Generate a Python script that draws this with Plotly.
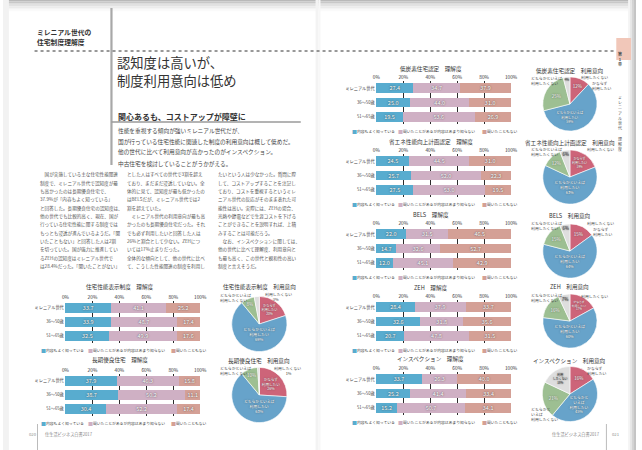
import plotly.graph_objects as go

W, H = 642, 450
def X(px): return px / W
def Y(py): return 1 - py / H

FONT = "Noto Sans CJK JP"

# ---------------- data ----------------
categories = ["ミレニアル世代", "36〜50歳", "51〜65歳"]
series_names = ["内容もよく知っている", "聞いたことがあるが内容はあまり知らない", "聞いたこともない"]
tick_vals = [0, 20, 40, 60, 80, 100]
tick_text = ["0%", "20%", "40%", "60%", "80%", "100%"]

# 理解度 (%)  [ミレニアル世代, 36〜50歳, 51〜65歳]
hyoji_know = [33.7, 33.9, 32.5]
hyoji_heard = [41.1, 48.7, 49.9]
hyoji_never = [25.2, 17.4, 17.6]

choki_know = [37.9, 38.7, 30.4]
choki_heard = [46.3, 50.2, 52.2]
choki_never = [15.8, 11.1, 17.4]

teitanso_know = [27.4, 25.0, 19.5]
teitanso_heard = [34.7, 44.0, 53.6]
teitanso_never = [37.9, 31.0, 26.9]

shoene_know = [24.5, 25.7, 27.5]
shoene_heard = [44.5, 52.0, 53.0]
shoene_never = [31.0, 22.3, 19.5]

bels_know = [22.0, 14.7, 12.0]
bels_heard = [31.5, 32.6, 45.1]
bels_never = [46.5, 52.7, 42.9]

zeh_know = [28.4, 32.6, 20.7]
zeh_heard = [37.9, 31.8, 47.8]
zeh_never = [33.7, 35.6, 31.5]

insp_know = [33.7, 25.2, 15.2]
insp_heard = [26.3, 41.4, 50.7]
insp_never = [40.0, 33.4, 34.1]

# 利用意向 (%)  [かならず利用したい, どちらかといえば利用したい, どちらかといえば利用したくない, 利用したくない]
pie_labels = ["かならず利用したい", "どちらかといえば利用したい", "どちらかといえば利用したくない", "利用したくない"]
hyoji_use = [20, 69, 8, 3]
choki_use = [26, 63, 10, 1]
teitanso_use = [12, 59, 25, 4]
shoene_use = [19, 63, 12, 6]
bels_use = [15, 64, 15, 6]
zeh_use = [17, 60, 16, 7]
insp_use = [16, 45, 21, 18]

bar_colors = ["#58accf", "#cfb0c4", "#d4a096"]
pie_colors = ["#cd6479", "#67a3ca", "#9dbf92", "#dedede"]

# ---------------- layout geometry (pixels) ----------------
bar_charts = [
    dict(title="住宅性能表示制度　理解度", data=(hyoji_know, hyoji_heard, hyoji_never), x0=62.7, x1=200.7, top=301, bot=343, ty=287),
    dict(title="長期優良住宅　理解度", data=(choki_know, choki_heard, choki_never), x0=62.7, x1=200.7, top=374, bot=416, ty=360),
    dict(title="低炭素住宅認定　理解度", data=(teitanso_know, teitanso_heard, teitanso_never), x0=378, x1=516, top=81, bot=124, ty=69),
    dict(title="省エネ性能向上計画認定　理解度", data=(shoene_know, shoene_heard, shoene_never), x0=378, x1=516, top=154, bot=197, ty=142),
    dict(title="BELS　理解度", data=(bels_know, bels_heard, bels_never), x0=378, x1=516, top=227, bot=270, ty=215),
    dict(title="ZEH　理解度", data=(zeh_know, zeh_heard, zeh_never), x0=378, x1=516, top=300, bot=343, ty=288),
    dict(title="インスペクション　理解度", data=(insp_know, insp_heard, insp_never), x0=378, x1=516, top=372, bot=415, ty=359),
]

blue_txt = "どちらかといえば<br>利用したい<br>"
pies = [
    dict(title="住宅性能表示制度　利用意向", vals=hyoji_use, cx=260, cy=324, r=28, ty=287,
         inner=["かならず<br>利用したい<br>", blue_txt, "", None],
         outer=[("どちらかといえば<br>利用したくない", 218, 297), ("利用したくない<br>　　3%", 264, 296)]),
    dict(title="長期優良住宅　利用意向", vals=choki_use, cx=260, cy=395, r=28, ty=361,
         inner=["かならず<br>利用したい<br>", blue_txt, "", None],
         outer=[("どちらかといえば<br>利用したくない", 218, 370), ("利用したくない<br>　　　1%", 273, 370)]),
    dict(title="低炭素住宅認定　利用意向", vals=teitanso_use, cx=575, cy=104, r=27.5, ty=71,
         inner=["", blue_txt, "", ""],
         outer=[("どちらかといえば<br>利用したくない", 533, 80), ("利用したくない", 584, 77), ("かならず<br>利用したい", 595, 85)]),
    dict(title="省エネ性能向上計画認定　利用意向", vals=shoene_use, cx=575, cy=177, r=27.5, ty=143,
         inner=["かならず<br>利用したい<br>", blue_txt, "", ""],
         outer=[("どちらかといえば<br>利用したくない", 533, 152), ("利用したくない", 590, 149)]),
    dict(title="BELS　利用意向", vals=bels_use, cx=575, cy=251, r=27.5, ty=216,
         inner=["", blue_txt, "", ""],
         outer=[("どちらかといえば<br>利用したくない", 533, 225), ("利用したくない", 590, 223), ("かならず<br>利用したい", 596, 231)]),
    dict(title="ZEH　利用意向", vals=zeh_use, cx=575, cy=321, r=27.5, ty=287,
         inner=["かならず<br>利用したい<br>", blue_txt, "", ""],
         outer=[("どちらかといえば<br>利用したくない", 533, 297), ("利用したくない", 584, 296)]),
    dict(title="インスペクション　利用意向", vals=insp_use, cx=575, cy=394, r=28, ty=361,
         inner=["", "どちらかと<br>いえば<br>利用したい<br>", "", "利用<br>したくない<br>"],
         outer=[("かならず<br>利用したい", 590, 370), ("どちらかと<br>いえば<br>利用したくない", 533, 414)]),
]

fig = go.Figure()
annotations = []
shapes = []

# ---------------- bar charts ----------------
layout_axes = {}
for i, ch in enumerate(bar_charts, start=1):
    xs = "" if i == 1 else str(i)
    for vals, name, col in zip(ch["data"], series_names, bar_colors):
        fig.add_trace(go.Bar(
            x=vals, y=categories, orientation="h", name=name,
            marker=dict(color=col, line=dict(width=0)),
            width=0.68,
            text=[f"{v:.1f}" for v in vals], textposition="inside",
            insidetextanchor="middle", constraintext="none",
            textfont=dict(size=5.5, color="white", family=FONT, shadow="0px 0px 1.5px #222"),
            xaxis="x" + xs, yaxis="y" + xs, showlegend=False, hoverinfo="skip"))
    layout_axes["xaxis" + xs] = dict(
        domain=[X(ch["x0"]), X(ch["x1"])], range=[-0.5, 100.5], side="top",
        tickvals=tick_vals, ticktext=tick_text, ticks="",
        tickfont=dict(size=4.8, color="#333", family=FONT),
        showgrid=True, gridcolor="#2b2b2b", gridwidth=1.3, zeroline=False,
        showline=False, anchor="y" + xs, fixedrange=True)
    layout_axes["yaxis" + xs] = dict(
        domain=[Y(ch["bot"]), Y(ch["top"])], type="category",
        categoryorder="array", categoryarray=categories, autorange="reversed",
        ticks="", tickfont=dict(size=4.2, color="#444", family=FONT),
        showgrid=False, zeroline=False, showline=False, anchor="x" + xs, fixedrange=True)
    annotations.append(dict(
        x=X((ch["x0"] + ch["x1"]) / 2 - 13), y=Y(ch["ty"]), xref="paper", yref="paper",
        text=ch["title"], showarrow=False, xanchor="center", yanchor="middle",
        font=dict(size=5.6, color="#333", family=FONT)))
    for off, name, col in zip([-26, 21, 106], series_names, bar_colors):
        annotations.append(dict(
            x=X(ch["x0"] + off), y=Y(ch["bot"] + 6), xref="paper", yref="paper",
            text=f'<span style="color:{col};font-size:5px">■</span>{name}', showarrow=False,
            xanchor="left", yanchor="middle", font=dict(size=3.8, color="#444", family=FONT)))

# ---------------- pies ----------------
for p in pies:
    texts, tcolors = [], []
    for k, (inner, v) in enumerate(zip(p["inner"], p["vals"])):
        if inner is None:
            texts.append("")
        else:
            texts.append(f"{inner}{v}%")
        tcolors.append("#444" if k == 3 else "white")
    fig.add_trace(go.Pie(
        values=p["vals"], labels=pie_labels, sort=False, direction="clockwise", rotation=0,
        marker=dict(colors=pie_colors, line=dict(color="white", width=0.6)),
        text=texts, textinfo="text", textposition="inside", insidetextorientation="horizontal",
        textfont=dict(size=4.5, color=tcolors, family=FONT, shadow="0px 0px 1.5px #333"),
        domain=dict(x=[X(p["cx"] - p["r"]), X(p["cx"] + p["r"])],
                    y=[Y(p["cy"] + p["r"]), Y(p["cy"] - p["r"])]),
        showlegend=False, hoverinfo="skip"))
    annotations.append(dict(
        x=X(p["cx"]), y=Y(p["ty"]), xref="paper", yref="paper", text=p["title"],
        showarrow=False, xanchor="center", yanchor="middle",
        font=dict(size=5.6, color="#333", family=FONT)))
    for txt_, ox, oy in p["outer"]:
        annotations.append(dict(
            x=X(ox), y=Y(oy), xref="paper", yref="paper", text=txt_, showarrow=False,
            xanchor="left", yanchor="middle", align="left",
            font=dict(size=3.9, color="#444", family=FONT)))

# ---------------- page texts ----------------
def txt(s, px, py, size, color="#333", anchor="left", bold=False):
    annotations.append(dict(
        x=X(px), y=Y(py), xref="paper", yref="paper",
        text=f"<b>{s}</b>" if bold else s, showarrow=False,
        xanchor=anchor, yanchor="middle", align="left",
        font=dict(size=size, color=color, family=FONT)))

txt("ミレニアル世代の", 32, 32, 6.8, "#333", bold=True)
txt("住宅制度理解度", 32, 42, 6.8, "#333", bold=True)
txt("認知度は高いが、", 114, 62, 13.3, "#333")
txt("制度利用意向は低め", 114, 81, 13.3, "#333")
txt("関心あるも、コストアップが障壁に", 115, 116, 8, "#333", bold=True)

lead = ["性能を重視する傾向が強いミレニアル世代だが、",
        "国が行っている住宅性能に関連した制度の利用意向は概して低めだ。",
        "他の世代に比べて利用意向が高かったのがインスペクション。",
        "中古住宅を検討していることがうかがえる。"]
for k, s in enumerate(lead):
    txt(s, 115, 130 + k * 11, 5.7, "#444")

col1 = ["　国が実施している主な住宅性能関連", "制度で、ミレニアル世代で認知度が最",
        "も高かったのは長期優良住宅で、", "37.9%が「内容もよく知っている」",
        "と回答した。長期優良住宅の認知度は、", "他の世代でも比較的高く、現在、国が",
        "行っている住宅性能に関する制度では", "もっとも浸透が進んでいるようだ。「聞",
        "いたこともない」と回答した人は2割", "を切っていた。国が強力に推進してい",
        "るZEHの認知度はミレニアル世代で", "は28.4%だった。「聞いたことがない」"]
col2 = ["とした人はすべての世代で3割を超え", "ており、まだまだ浸透していない。全",
        "体的に見て、認知度が最も低かったの", "はBELSだが、ミレニアル世代では2",
        "割を超えていた。", "　ミレニアル世代の利用意向が最も高",
        "かったのも長期優良住宅だった。それ", "でも必ず利用したいと回答した人は",
        "26%と割合として少ない。ZEHにつ", "いては17%止まりだった。",
        "全体的な傾向として、他の世代に比べ", "て、こうした性能関連の制度を利用し"]
col3 = ["たいという人は少なかった。質問に際", "して、コストアップすることを注記し",
        "ており、コストを重視するというミレ", "ニアル世代の反応がそのまま表れた可",
        "能性は高い。実際には、ZEHの場合、", "光熱や節電などで生涯コストを下げる",
        "ことができることを説明すれば、上積", "みすることは可能だろう。",
        "　なお、インスペクションに関しては、", "他の世代に比べて理解度、利用意向と",
        "も最も高く、この世代と親和性の高い", "制度と言えそうだ。"]
for cx, col in zip([35, 124, 216], [col1, col2, col3]):
    for k, s in enumerate(col):
        txt(s, cx, 175 + k * 8.3, 4.6, "#555")

# footers
txt("020", 24, 434, 4.2, "#888")
txt("住生活ビジネス白書2017", 41, 434, 4.2, "#888")
txt("住生活ビジネス白書2017", 608, 434, 4.2, "#888", anchor="right")
txt("021", 616, 434, 4.2, "#888")

# right tab
annotations.append(dict(x=X(629.5), y=Y(49), xref="paper", yref="paper", text="<b>第<br>1<br>章</b>",
                        showarrow=False, font=dict(size=4, color="#555", family=FONT)))
annotations.append(dict(x=X(630), y=Y(92), xref="paper", yref="paper",
                        text="<br>".join(list("ミレニアル世代　理解度")), showarrow=False,
                        font=dict(size=4, color="#555", family=FONT)))

# ---------------- decorative shapes ----------------
def rect(x0, y0, x1, y1, color, layer="below"):
    shapes.append(dict(type="rect", xref="paper", yref="paper", x0=X(x0), x1=X(x1),
                       y0=Y(y1), y1=Y(y0), fillcolor=color, line=dict(width=0), layer=layer))

def line(x0, y0, x1, y1, color, width, dash="solid"):
    shapes.append(dict(type="line", xref="paper", yref="paper", x0=X(x0), x1=X(x1),
                       y0=Y(y0), y1=Y(y1), line=dict(color=color, width=width, dash=dash)))

for k, c in enumerate(["#b9b9b9", "#c8c8c8", "#d6d6d6", "#e2e2e2", "#ececec", "#f4f4f4", "#fafafa"]):
    rect(0, k * 1.6, 642, (k + 1) * 1.6, c)
for k, c in enumerate(["#f4f4f4", "#e6e6e6", "#d3d3d3", "#c4c4c4"]):
    rect(634 + k * 2, 0, 636 + k * 2, 450, c)
rect(0, 0, 6, 450, "#f2f2f2")
rect(317, 0, 320, 450, "#f3f3f3")
rect(320, 0, 322, 450, "#f7f7f7")
rect(622, 38, 637, 60, "#f1c7b9")

line(110, 8, 110, 165, "#a8a8a8", 2.2)
line(110, 122, 302, 122, "#9a9a9a", 1.5)
line(32, 51, 620, 51, "#333", 1, "dot")
line(35, 424, 35, 450, "#bbb", 1)
line(612, 424, 612, 450, "#bbb", 1)

fig.update_layout(
    width=W, height=H, margin=dict(l=0, r=0, t=0, b=0),
    paper_bgcolor="white", plot_bgcolor="rgba(0,0,0,0)",
    barmode="stack", bargap=0.32,
    font=dict(family=FONT, color="#333"),
    annotations=annotations, shapes=shapes, **layout_axes)

fig.write_html("out.html")
